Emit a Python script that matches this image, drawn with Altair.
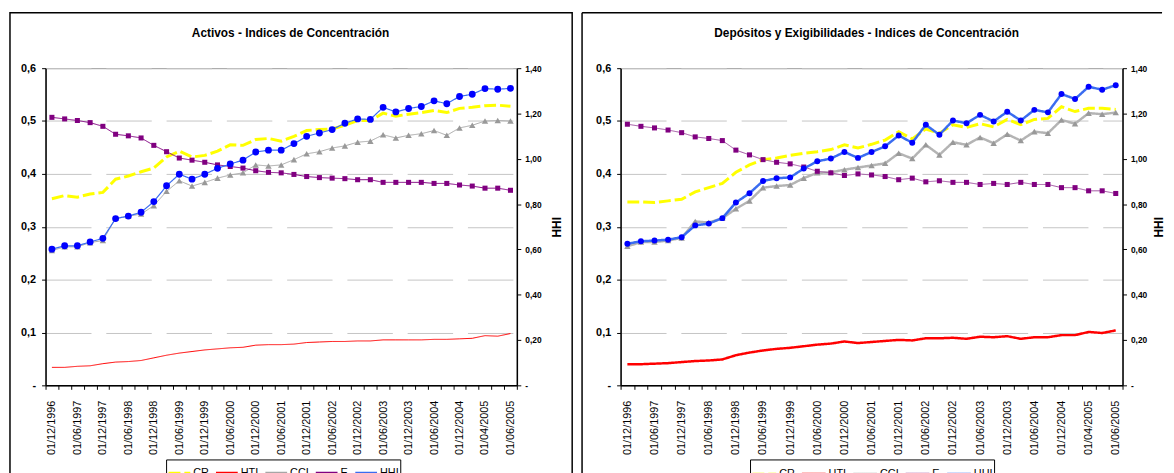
import json
import altair as alt
import pandas as pd

fechas = [
    "01/12/1996", "01/03/1997", "01/06/1997", "01/09/1997", "01/12/1997",
    "01/03/1998", "01/06/1998", "01/09/1998", "01/12/1998", "01/03/1999",
    "01/06/1999", "01/09/1999", "01/12/1999", "01/03/2000", "01/06/2000",
    "01/09/2000", "01/12/2000", "01/03/2001", "01/06/2001", "01/09/2001",
    "01/12/2001", "01/03/2002", "01/06/2002", "01/09/2002", "01/12/2002",
    "01/03/2003", "01/06/2003", "01/09/2003", "01/12/2003", "01/03/2004",
    "01/06/2004", "01/09/2004", "01/12/2004", "01/03/2005", "01/04/2005",
    "01/05/2005", "01/06/2005",
]
etiquetas = fechas[::2]
series = ["CR", "HTI", "CCI", "E", "HHI"]
titulos = ["Activos - Indices de Concentración",
           "Depósitos y Exigibilidades - Indices de Concentración"]

# Activos
act_cr = [0.353, 0.359, 0.356, 0.362, 0.365, 0.390, 0.396, 0.404, 0.411, 0.432,
          0.443, 0.432, 0.435, 0.443, 0.455, 0.454, 0.465, 0.467, 0.462, 0.471,
          0.482, 0.484, 0.485, 0.492, 0.501, 0.501, 0.515, 0.509, 0.513, 0.516,
          0.520, 0.516, 0.524, 0.526, 0.529, 0.530, 0.528]
act_hti = [0.034, 0.034, 0.036, 0.037, 0.041, 0.044, 0.045, 0.047, 0.052, 0.057,
           0.061, 0.064, 0.067, 0.069, 0.071, 0.072, 0.076, 0.077, 0.077, 0.078,
           0.081, 0.082, 0.083, 0.083, 0.084, 0.084, 0.086, 0.086, 0.086, 0.086,
           0.087, 0.087, 0.088, 0.089, 0.094, 0.093, 0.098]
act_cci = [0.255, 0.262, 0.262, 0.270, 0.274, 0.316, 0.320, 0.324, 0.340, 0.367,
           0.387, 0.377, 0.384, 0.392, 0.398, 0.402, 0.417, 0.415, 0.417, 0.427,
           0.438, 0.442, 0.449, 0.453, 0.460, 0.462, 0.474, 0.468, 0.473, 0.476,
           0.482, 0.473, 0.487, 0.492, 0.500, 0.501, 0.500]
act_e = [0.507, 0.504, 0.501, 0.497, 0.490, 0.475, 0.472, 0.468, 0.454, 0.442,
         0.430, 0.426, 0.422, 0.417, 0.414, 0.411, 0.406, 0.403, 0.402, 0.399,
         0.395, 0.393, 0.392, 0.391, 0.389, 0.389, 0.384, 0.384, 0.384, 0.384,
         0.382, 0.382, 0.379, 0.377, 0.373, 0.373, 0.369]
act_hhi = [0.601, 0.616, 0.616, 0.633, 0.649, 0.736, 0.747, 0.764, 0.811, 0.881,
           0.932, 0.910, 0.932, 0.958, 0.977, 0.994, 1.030, 1.038, 1.038, 1.067,
           1.099, 1.114, 1.129, 1.157, 1.176, 1.174, 1.227, 1.207, 1.222, 1.231,
           1.256, 1.243, 1.275, 1.285, 1.310, 1.307, 1.311]

# Depositos y Exigibilidades
dep_cr = [0.347, 0.347, 0.346, 0.349, 0.352, 0.366, 0.374, 0.382, 0.403, 0.417,
          0.427, 0.430, 0.435, 0.439, 0.442, 0.446, 0.455, 0.449, 0.456, 0.464,
          0.480, 0.466, 0.485, 0.477, 0.493, 0.488, 0.495, 0.489, 0.503, 0.493,
          0.503, 0.505, 0.527, 0.518, 0.524, 0.524, 0.522]
dep_hti = [0.040, 0.040, 0.041, 0.042, 0.044, 0.046, 0.047, 0.049, 0.057, 0.062,
           0.066, 0.069, 0.071, 0.074, 0.077, 0.079, 0.083, 0.080, 0.082, 0.084,
           0.086, 0.085, 0.089, 0.089, 0.090, 0.088, 0.092, 0.091, 0.093, 0.088,
           0.091, 0.091, 0.095, 0.095, 0.101, 0.099, 0.104]
dep_cci = [0.263, 0.271, 0.271, 0.274, 0.279, 0.310, 0.308, 0.316, 0.334, 0.349,
           0.374, 0.377, 0.379, 0.392, 0.402, 0.403, 0.408, 0.412, 0.416, 0.420,
           0.439, 0.429, 0.455, 0.436, 0.460, 0.455, 0.469, 0.458, 0.475, 0.463,
           0.480, 0.477, 0.502, 0.495, 0.515, 0.513, 0.516]
dep_e = [0.494, 0.490, 0.487, 0.483, 0.478, 0.470, 0.467, 0.463, 0.445, 0.436,
         0.427, 0.422, 0.419, 0.413, 0.405, 0.402, 0.397, 0.400, 0.398, 0.395,
         0.389, 0.392, 0.385, 0.387, 0.384, 0.384, 0.380, 0.382, 0.380, 0.384,
         0.380, 0.380, 0.374, 0.374, 0.368, 0.368, 0.363]
dep_hhi = [0.625, 0.636, 0.639, 0.643, 0.654, 0.706, 0.714, 0.738, 0.807, 0.848,
           0.902, 0.914, 0.918, 0.957, 0.989, 1.001, 1.030, 1.004, 1.030, 1.055,
           1.103, 1.071, 1.150, 1.106, 1.169, 1.157, 1.194, 1.165, 1.208, 1.169,
           1.216, 1.205, 1.286, 1.264, 1.318, 1.305, 1.325]

FONT = "Liberation Sans"
H = 321


def marco(est, ancho, titulo):
    d = pd.DataFrame({"k": [0]})
    capas = []
    if est["full"]:
        capas.append(alt.Chart(d).mark_rect(
            filled=False, stroke="black", strokeWidth=1.5).encode(
            x=alt.value(est["fl"]), x2=alt.value(ancho + est["fr"]),
            y=alt.value(-56), y2=alt.value(H + 100)))
    else:
        capas.append(alt.Chart(d).mark_rule(color="black", strokeWidth=1.5).encode(
            x=alt.value(est["fl"]), x2=alt.value(ancho + est["fr"]),
            y=alt.value(-56)))
        capas.append(alt.Chart(d).mark_rule(color="black", strokeWidth=1.5).encode(
            x=alt.value(est["fl"]), y=alt.value(-56), y2=alt.value(H + 100)))
    capas.append(alt.Chart(d).mark_text(
        text=titulo, font=FONT, fontSize=12, fontWeight="bold", color="black",
        align="center", baseline="middle").encode(
        x=alt.value(est["tx"]), y=alt.value(-36)))
    return capas


def panel(titulo, ancho, cr, hti, cci, e, hhi, est, leg_x):
    n = len(fechas)
    df = pd.DataFrame({
        "fecha": fechas * 4,
        "serie": ["CR"] * n + ["HTI"] * n + ["CCI"] * n + ["E"] * n,
        "valor": cr + hti + cci + e,
    })
    dh = pd.DataFrame({"fecha": fechas, "serie": ["HHI"] * n, "hhi": hhi})

    label_expr = ("indexof(" + json.dumps(etiquetas) +
                  ", datum.value) >= 0 ? datum.label : ''")
    x = alt.X(
        "fecha:O", sort=fechas, bandPosition=0.5,
        scale=alt.Scale(type="band", paddingInner=0, paddingOuter=0),
        axis=alt.Axis(title=None, labelAngle=270, labelExpr=label_expr,
                      tickBand="extent", tickSize=4, labelPadding=11,
                      labelFontSize=11, labelColor="black", labelOverlap=False,
                      domainColor="black", domainWidth=1.5, tickColor="black",
                      grid=False),
    )
    y = alt.Y(
        "valor:Q", scale=alt.Scale(domain=[0, 0.6], nice=False),
        axis=alt.Axis(
            title=None, values=[0, 0.1, 0.2, 0.3, 0.4, 0.5, 0.6],
            labelExpr="datum.value == 0 ? '-\u00a0\u00a0\u00a0' : replace(format(datum.value, '.1f'), '.', ',')",
            grid=True, gridDash=[46, 15], gridColor="#c4c4c4", gridWidth=1,
            tickSize=4, labelPadding=6, labelFontSize=11, labelFontWeight="bold",
            labelColor="black", domainColor="black", domainWidth=1.5,
            tickColor="black"),
    )
    yh = alt.Y(
        "hhi:Q", scale=alt.Scale(domain=[0, 1.4], nice=False),
        axis=alt.Axis(
            orient="right", title="HHI", titleAngle=270, titleFontSize=12,
            titleFontWeight="bold", titleColor="black",
            titlePadding=est["tpad"],
            values=[0, 0.2, 0.4, 0.6, 0.8, 1.0, 1.2, 1.4],
            labelExpr="datum.value == 0 ? '\u00a0-' : replace(format(datum.value, '.2f'), '.', ',')",
            grid=False, tickSize=4, labelPadding=4, labelFontSize=8.5,
            labelFontWeight="bold", labelColor="black", domainColor="black",
            domainWidth=1.5, tickColor="black"),
    )
    leyenda = alt.Legend(
        title=None, orient="none", legendX=leg_x, legendY=396,
        direction="horizontal", symbolType="stroke", symbolSize=est["lsym"],
        symbolStrokeWidth=2, labelFontSize=11, labelColor="black",
        labelOffset=2, columnPadding=3, padding=1.5, strokeColor="black",
        fillColor="white")
    color = alt.Color("serie:N",
                      scale=alt.Scale(domain=series, range=est["colors"]),
                      legend=leyenda)
    dash = alt.StrokeDash("serie:N",
                          scale=alt.Scale(domain=series,
                                          range=[[12, 4], [1, 0], [1, 0], [1, 0], [1, 0]]),
                          legend=leyenda)

    capas = []
    for s in ["CR", "HTI", "CCI", "E"]:
        capas.append(
            alt.Chart(df).transform_filter(f"datum.serie == '{s}'")
            .mark_line(strokeWidth=est["w"][s])
            .encode(x=x, y=y, color=color, strokeDash=dash))
    capas.append(
        alt.Chart(df).transform_filter("datum.serie == 'CCI'")
        .mark_point(shape="triangle-up", filled=True, size=est["tri"],
                    color=est["tri_c"], opacity=1)
        .encode(x=x, y=y))
    capas.append(
        alt.Chart(df).transform_filter("datum.serie == 'E'")
        .mark_point(shape="square", filled=True, size=est["sq"],
                    color="#800080", opacity=1)
        .encode(x=x, y=y))
    izq = alt.layer(*capas)

    der = alt.layer(
        alt.Chart(dh).mark_line(strokeWidth=est["w"]["HHI"])
        .encode(x=x, y=yh, color=color, strokeDash=dash),
        alt.Chart(dh).mark_circle(color="#0000ff", size=est["dot"], opacity=1)
        .encode(x=x, y=yh),
    )

    return alt.layer(*marco(est, ancho, titulo), izq, der).resolve_scale(
        y="independent").properties(width=ancho, height=H)


est_act = {
    "colors": ["#ffff00", "#ff0000", "#a6a6a6", "#800080", "#3a6cf0"],
    "w": {"CR": 3, "HTI": 1, "CCI": 1, "E": 1, "HHI": 1.2},
    "tri": 42, "tri_c": "#999999", "sq": 26, "dot": 48,
    "fl": -36, "fr": 56, "full": True, "tx": 248, "lsym": 484, "tpad": 23,
}
est_dep = {
    "colors": ["#ffff00", "#ff0000", "#b4b4b4", "#a050a0", "#3a6cf0"],
    "w": {"CR": 3, "HTI": 2.5, "CCI": 2.5, "E": 1, "HHI": 2.5},
    "tri": 42, "tri_c": "#999999", "sq": 26, "dot": 36,
    "fl": -39, "fr": 40, "full": False, "tx": 249, "lsym": 576, "tpad": 19,
}

p1 = panel(titulos[0], 477, act_cr, act_hti, act_cci, act_e, act_hhi,
           est_act, 122)
p2 = panel(titulos[1], 508, dep_cr, dep_hti, dep_cci, dep_e, dep_hhi,
           est_dep, 131)

chart = alt.hconcat(p1, p2, spacing=6).resolve_scale(
    color="independent", strokeDash="independent"
).resolve_legend(
    color="independent", strokeDash="independent"
).properties(
    padding={"left": 0, "top": 0, "right": 0, "bottom": 0}
).configure(font=FONT).configure_view(stroke="#999999", strokeWidth=1)

chart.save("out.html", embed_options={"renderer": "svg", "actions": False})
